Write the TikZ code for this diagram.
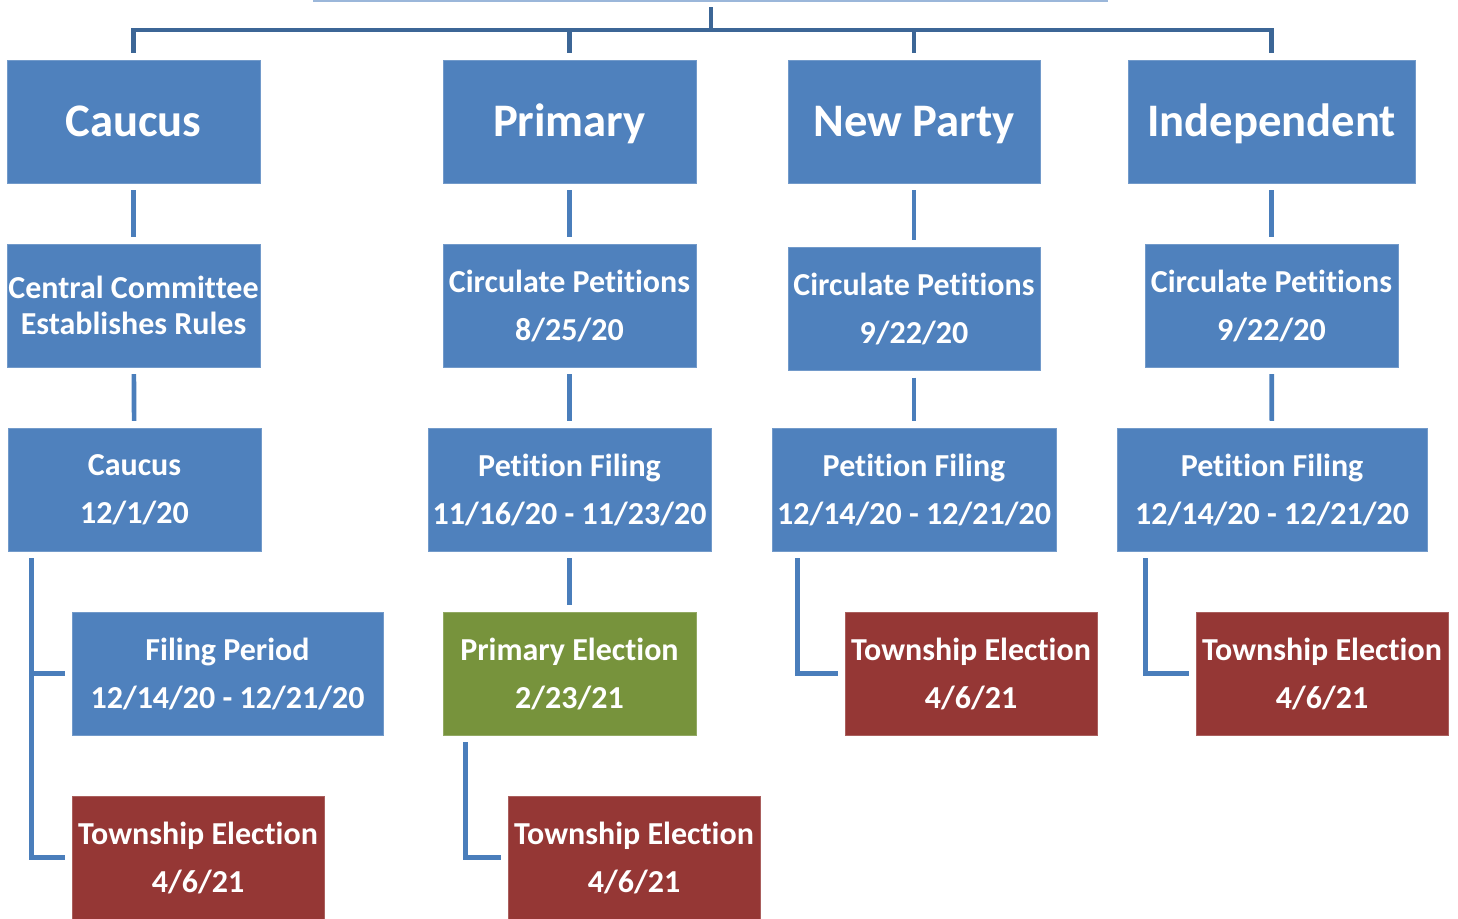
\documentclass[tikz,border=0pt]{standalone}
\usepackage{fontspec}
\setmainfont[Ligatures=NoCommon]{Carlito}
\usepackage{tikz}
\usetikzlibrary{positioning}
\definecolor{boxblue}{HTML}{4F81BD}
\definecolor{boxgreen}{HTML}{77933C}
\definecolor{boxred}{HTML}{953735}
\definecolor{linkblue}{HTML}{4A7EBB}
\definecolor{busblue}{HTML}{3C6696}
\definecolor{rootblue}{HTML}{9BB7DA}
\tikzstyle{party} = [rectangle, minimum width=189.75pt, minimum height=92.25pt, inner sep=0pt, text height=22.5pt, text depth=0pt, text centered, fill=boxblue, draw=boxblue!80!white, line width=0.6pt, text=white, font=\fontsize{35}{42}\selectfont\bfseries]
\tikzstyle{stage} = [rectangle, minimum width=189.75pt, minimum height=92.25pt, inner sep=0pt, align=center, fill=boxblue, draw=boxblue!80!white, line width=0.6pt, text=white, font=\fontsize{24}{36}\selectfont\bfseries]
\tikzstyle{primvote} = [stage, fill=boxgreen, draw=boxgreen!80!white]
\tikzstyle{township} = [stage, fill=boxred, draw=boxred!80!white, minimum width=189pt]
\tikzstyle{link} = [line width=3.5pt, draw=linkblue, shorten <=5pt, shorten >=5pt]
\tikzstyle{bus} = [line width=3.6pt, draw=busblue]
\tikzstyle{rootline} = [line width=1.5pt, draw=rootblue]

\begin{document}
\begin{tikzpicture}[x=0.75pt, y=-0.75pt, node distance=138pt]
\useasboundingbox (0,0) rectangle (1458,918);
% top row
\node (caucus) [party] at (133.5,121.5) {Caucus};
\node (primary) [party] at (569.5,121.5) {Primary};
\node (newparty) [party, minimum width=189pt] at (914,121.5) {New Party};
\node (indep) [party, minimum width=215.25pt] at (1271.5,121.5) {Independent};
% second row
\node (rules) [stage, below of=caucus, font=\fontsize{24}{26.5}\selectfont\bfseries] {Central Committee\\Establishes Rules};
\node (circP) [stage, below of=primary] {Circulate Petitions\\8/25/20};
\node (circN) [stage, below of=newparty, yshift=-2.6pt, minimum width=189pt] {Circulate Petitions\\9/22/20};
\node (circI) [stage, below of=indep] {Circulate Petitions\\9/22/20};
% third row
\node (meet) [stage, below of=rules, xshift=0.75pt] {Caucus\\12/1/20};
\node (fileP) [stage, below of=circP, minimum width=212.25pt] {Petition Filing\\11/16/20 - 11/23/20};
\node (fileN) [stage, below of=circN, yshift=2.6pt, minimum width=213pt] {Petition Filing\\12/14/20 - 12/21/20};
\node (fileI) [stage, below of=circI, xshift=0.375pt, minimum width=232.5pt] {Petition Filing\\12/14/20 - 12/21/20};
% fourth row
\node (period) [stage, below of=meet, xshift=69.75pt, minimum width=233.25pt] {Filing Period\\12/14/20 - 12/21/20};
\node (vote) [primvote, below of=fileP] {Primary Election\\2/23/21};
\node (townN) [township, below of=fileN, xshift=42.75pt] {Township Election\\4/6/21};
\node (townI) [township, below of=fileI, xshift=37.5pt] {Township Election\\4/6/21};
% fifth row
\node (townC) [township, below of=period, xshift=-22.125pt] {Township Election\\4/6/21};
\node (townP) [township, below of=vote, xshift=48.375pt] {Township Election\\4/6/21};

% bus from the root
\coordinate (rootL) at (313,0.8);
\coordinate (rootR) at (1108,0.8);
\coordinate (rootfoot) at (711,7);
\coordinate (hub) at (711,30);
\draw[rootline] (rootL) -- (rootR);
\draw[bus] (rootfoot) -- (hub);
\draw[bus, shorten <=5.25pt, shorten >=5.25pt] (caucus.north) |- (hub) -| (indep.north);
\draw[bus, shorten >=5.25pt] (hub -| primary.north) -- (primary.north);
\draw[bus, shorten >=5.25pt] (hub -| newparty.north) -- (newparty.north);

% straight links
\draw[link] (caucus) -- (rules);
\draw[link] (primary) -- (circP);
\draw[link] (newparty) -- (circN);
\draw[link] (indep) -- (circI);
\draw[link] (rules) -- (meet);
\draw[link] (circP) -- (fileP);
\draw[link] (circN) -- (fileN);
\draw[link] (circI) -- (fileI);
\draw[link] (fileP) -- (vote);

% elbow links
\draw[link] ([xshift=18pt]meet.south west) |- (period.west);
\draw[link] ([xshift=18pt]meet.south west) |- (townC.west);
\draw[link] ([xshift=17.25pt]vote.south west) |- (townP.west);
\draw[link] ([xshift=19.5pt]fileN.south west) |- (townN.west);
\draw[link] ([xshift=21.75pt]fileI.south west) |- (townI.west);
\end{tikzpicture}
\end{document}
